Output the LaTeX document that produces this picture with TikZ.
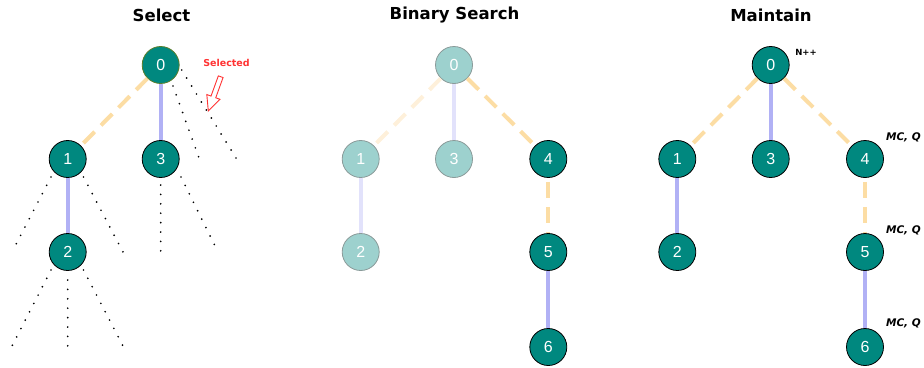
\documentclass[tikz,border=0pt]{standalone}
\usepackage{fontspec}
\setmainfont{Liberation Sans}
\newfontfamily\titlefont{DejaVu Sans}
\definecolor{teal0}{HTML}{00887F}
\definecolor{tealfade}{HTML}{9DD1CE}
\definecolor{greyb}{HTML}{8A9A99}
\definecolor{oliveb}{HTML}{5A7D2A}
\definecolor{orangee}{HTML}{FCDDA4}
\definecolor{orangefade}{HTML}{FEF0DA}
\definecolor{lav}{HTML}{B1B1F5}
\definecolor{lavfade}{HTML}{E2E2FB}
\definecolor{selred}{HTML}{FF3333}
\tikzset{
  tn/.style={circle, minimum size=37pt, inner sep=0pt, draw=black, line width=0.8pt,
    fill=teal0, text=white, font=\fontsize{16}{16}\selectfont},
  fn/.style={tn, fill=tealfade, draw=greyb},
  oe/.style={draw=orangee, line width=4pt, dash pattern=on 16pt off 9pt},
  oef/.style={oe, draw=orangefade},
  le/.style={draw=lav, line width=4pt},
  lef/.style={le, draw=lavfade},
  dt/.style={draw=black, line width=1.9pt, dash pattern=on 0pt off 9.4pt, line cap=round},
  ttl/.style={font=\titlefont\bfseries\fontsize{16.5}{16.5}\selectfont, text=black},
  lbl/.style={font=\titlefont\bfseries\itshape\fontsize{10.5}{10.5}\selectfont, text=black, inner sep=0pt},
}
\begin{document}
\begin{tikzpicture}[x=1pt,y=-1pt]
\useasboundingbox (0,0) rectangle (924,367);
% ---------- Select ----------
\node[ttl] (t1) at (161.5,15) {Select};
\node[tn, draw=oliveb] (a0) at (160.7,65) {0};
\node[tn] (a1) at (67.7,159) {1};
\node[tn] (a3) at (160.7,159) {3};
\node[tn] (a2) at (67.7,252) {2};
\draw[oe] (a0) -- (a1);
\draw[le] (a0) -- (a3);
\draw[le] (a1) -- (a2);
% dotted unexplored branches
\coordinate (s0a) at (181.7,70);  \coordinate (e0a) at (236,158);
\coordinate (s0b) at (173,86);    \coordinate (e0b) at (199,158);
\coordinate (s1a) at (51,177);    \coordinate (e1a) at (12,252);
\coordinate (s1b) at (83.5,177);  \coordinate (e1b) at (123,252);
\coordinate (s3a) at (160.7,185); \coordinate (e3a) at (160.7,252);
\coordinate (s3b) at (181,177);   \coordinate (e3b) at (218,252);
\coordinate (s2a) at (51,270);    \coordinate (e2a) at (12,346);
\coordinate (s2b) at (67.7,280);  \coordinate (e2b) at (67.7,346);
\coordinate (s2c) at (83.5,270);  \coordinate (e2c) at (123,346);
\foreach \p in {0a,0b,1a,1b,3a,3b,2a,2b,2c}{\draw[dt] (s\p) -- (e\p);}
% selected label and hollow arrow
\node[font=\titlefont\bfseries\fontsize{9.5}{9.5}\selectfont, text=selred] (sel) at (226.5,63) {Selected};
\draw[selred, line width=0.9pt, fill=white, line join=miter]
  (223.05,77.55) -- (215.74,97.76) -- (219.97,99.29) -- (208.3,111) --
  (206.81,94.53) -- (211.04,96.06) -- (218.35,75.85) -- cycle;
% ---------- Binary Search ----------
\node[ttl] (t2) at (454.5,15) {Binary Search};
\node[fn] (b0) at (454,65) {0};
\node[fn] (b1) at (360.7,159) {1};
\node[fn] (b3) at (454,159) {3};
\node[tn] (b4) at (548.3,159) {4};
\node[fn] (b2) at (360.7,252) {2};
\node[tn] (b5) at (548.3,252) {5};
\node[tn] (b6) at (548.3,347) {6};
\draw[oef] (b0) -- (b1);
\draw[lef] (b0) -- (b3);
\draw[lef] (b1) -- (b2);
\draw[oe] (b0) -- (b4);
\draw[oe, dash phase=-4pt] (b4) -- (b5);
\draw[le] (b5) -- (b6);
% ---------- Maintain ----------
\node[ttl] (t3) at (771,15) {Maintain};
\node[tn] (c0) at (770.7,65) {0};
\node[tn] (c1) at (677.3,159) {1};
\node[tn] (c3) at (770.7,159) {3};
\node[tn] (c4) at (865,159) {4};
\node[tn] (c2) at (677.3,252) {2};
\node[tn] (c5) at (865,252) {5};
\node[tn] (c6) at (865,347) {6};
\draw[oe] (c0) -- (c1);
\draw[le] (c0) -- (c3);
\draw[oe] (c0) -- (c4);
\draw[le] (c1) -- (c2);
\draw[oe, dash phase=-4pt] (c4) -- (c5);
\draw[le] (c5) -- (c6);
\node[font=\titlefont\bfseries\fontsize{8.5}{8.5}\selectfont, inner sep=0pt] (np) at (806,52) {N++};
\node[lbl, anchor=east] (m4) at (921,137) {MC, Q};
\node[lbl, anchor=east] (m5) at (921,230) {MC, Q};
\node[lbl, anchor=east] (m6) at (921,323) {MC, Q};
\end{tikzpicture}
\end{document}
